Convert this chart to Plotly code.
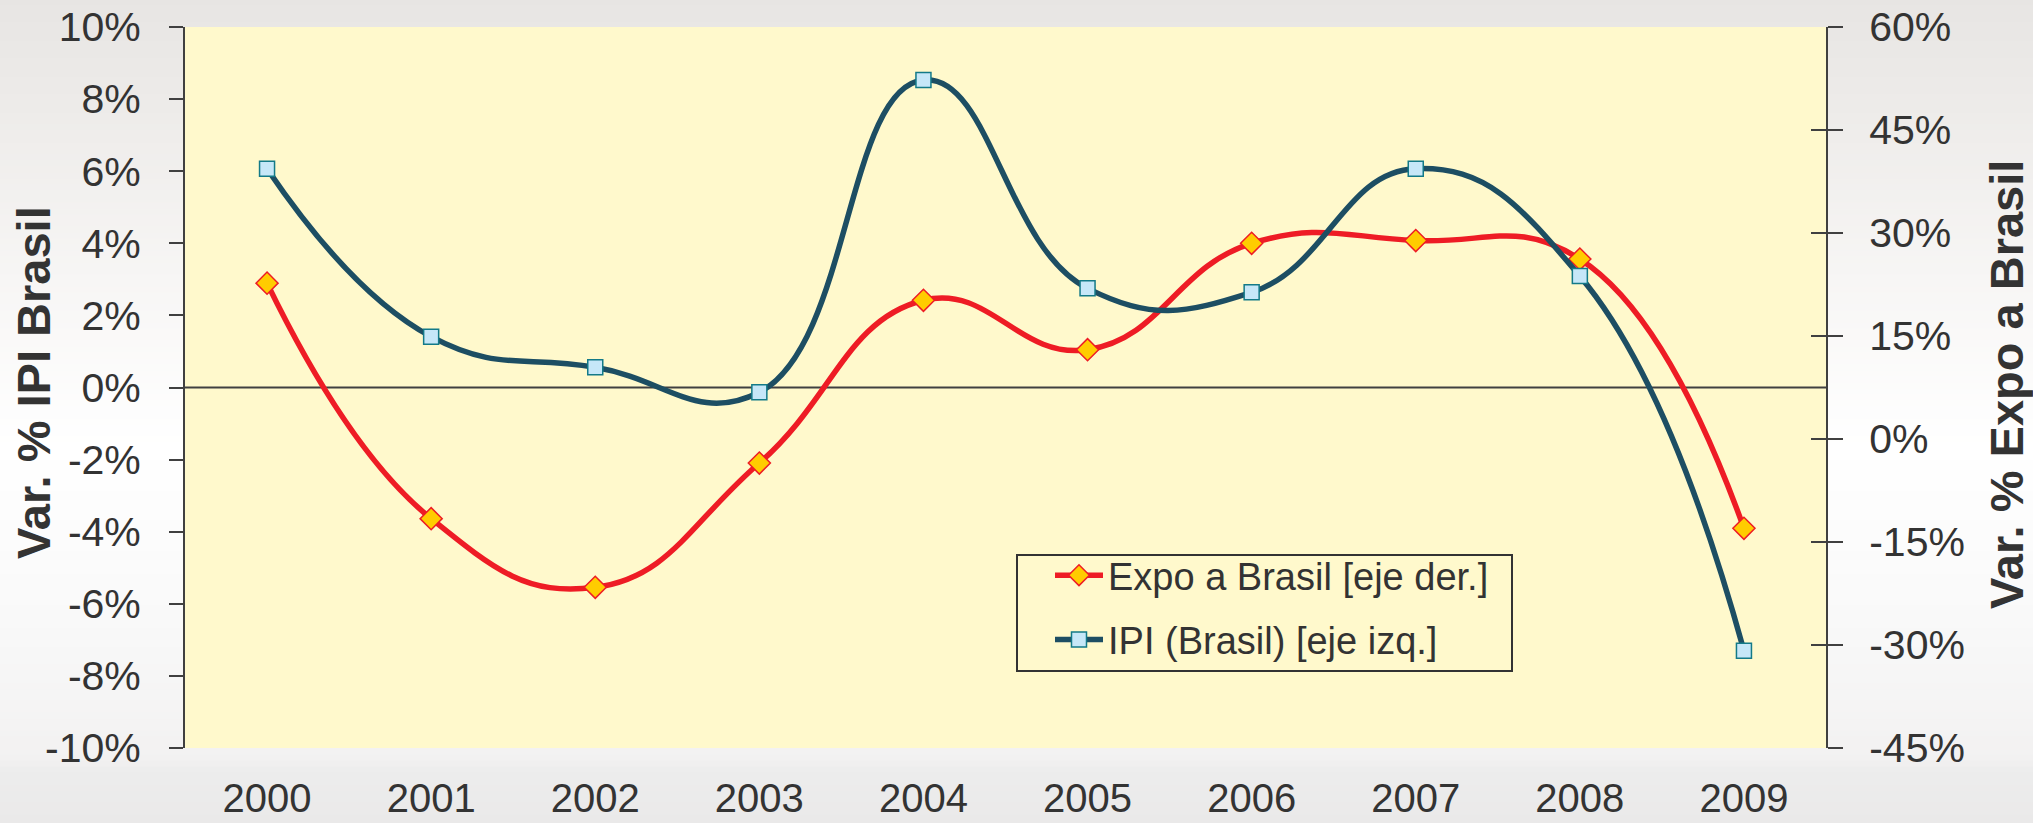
import plotly.graph_objects as go

# ---- data ----
years = ["2000", "2001", "2002", "2003", "2004", "2005", "2006", "2007", "2008", "2009"]
ipi_brasil = [6.07, 1.41, 0.56, -0.13, 8.53, 2.75, 2.64, 6.07, 3.09, -7.30]      # left axis, %
expo_brasil = [22.7, -11.6, -21.6, -3.5, 20.2, 13.0, 28.5, 28.9, 26.2, -13.0]   # right axis, %
left_ticks = [-10, -8, -6, -4, -2, 0, 2, 4, 6, 8, 10]
right_ticks = [-45, -30, -15, 0, 15, 30, 45, 60]
name_expo = "Expo a Brasil [eje der.]"
name_ipi = "IPI (Brasil) [eje izq.]"
title_left = "Var. % IPI Brasil"
title_right = "Var. % Expo a Brasil"

W, H = 2033, 823
ML, MR, MT, MB = 185, 207, 27, 75
PW, PH = W - ML - MR, H - MT - MB
FONT = "Liberation Sans, Arial, Helvetica, sans-serif"
TXT = "#333333"
AX = "#404040"


def px_x(x):
    return (x - ML) / PW


def px_y(y):
    return (H - MB - y) / PH


fig = go.Figure()

fig.add_trace(go.Scatter(
    x=years, y=expo_brasil, name=name_expo, yaxis="y", legendgroup="a",
    mode="lines+markers",
    line=dict(color="#EE1C25", width=5.5, shape="spline", smoothing=1.3),
    marker=dict(symbol="diamond", size=17, color="#FFCC00",
                line=dict(color="#EE1C25", width=1.5)),
))
fig.add_trace(go.Scatter(
    x=years, y=ipi_brasil, name=name_ipi, yaxis="y2", legendgroup="b",
    mode="lines+markers",
    line=dict(color="#1D4E63", width=5.5, shape="spline", smoothing=1.3),
    marker=dict(symbol="square", size=15, color="#C6E7F8",
                line=dict(color="#137A88", width=1.5)),
))

# background gradient (page) built from stacked bands
stops = [(0, (231, 229, 227)), (120, (238, 236, 234)), (300, (248, 247, 246)),
         (450, (255, 255, 255)), (620, (249, 249, 249)), (764, (242, 241, 241)),
         (766, (237, 237, 237)), (823, (234, 233, 233))]
shapes = []
band = 6
for y0 in range(0, H, band):
    y1 = min(H, y0 + band)
    ym = (y0 + y1) / 2
    c = stops[-1][1]
    for i in range(len(stops) - 1):
        a, ca = stops[i]
        b, cb = stops[i + 1]
        if a <= ym <= b:
            t = (ym - a) / (b - a) if b > a else 0
            c = tuple(round(ca[k] + (cb[k] - ca[k]) * t) for k in range(3))
            break
    shapes.append(dict(type="rect", xref="paper", yref="paper", layer="below",
                       x0=px_x(-5), x1=px_x(W + 5),
                       y0=px_y(y1), y1=px_y(y0) + 0.002,
                       fillcolor="rgb(%d,%d,%d)" % c, line=dict(width=0)))
# plot area fill
shapes.append(dict(type="rect", xref="paper", yref="paper", layer="below",
                   x0=0, x1=1, y0=0, y1=1, fillcolor="#FFF9CC", line=dict(width=0)))
# zero line of left axis
shapes.append(dict(type="line", xref="paper", yref="y2", layer="below",
                   x0=0, x1=1, y0=0, y1=0, line=dict(color=AX, width=2)))
# legend frame
shapes.append(dict(type="rect", xref="paper", yref="paper", layer="below",
                   x0=px_x(1017), x1=px_x(1512), y0=px_y(671), y1=px_y(555),
                   fillcolor="rgba(0,0,0,0)", line=dict(color="#333333", width=2)))

fig.update_layout(
    template="none",
    width=W, height=H,
    margin=dict(l=ML, r=MR, t=MT, b=MB, autoexpand=False),
    paper_bgcolor="#FFFFFF", plot_bgcolor="rgba(0,0,0,0)",
    font=dict(family=FONT, color=TXT, size=41),
    shapes=shapes,
    showlegend=True,
    legend=dict(x=px_x(1050), y=px_y(544), xanchor="left", yanchor="top",
                bgcolor="rgba(0,0,0,0)", borderwidth=0,
                font=dict(size=38, color=TXT, family=FONT),
                traceorder="grouped", itemwidth=48, tracegroupgap=12),
    xaxis=dict(type="category", range=[-0.5, 9.5], showgrid=False, zeroline=False,
               showline=False, ticks="", tickfont=dict(size=40, color=TXT),
               ticklabelstandoff=23, automargin=False),
    yaxis=dict(range=[-45, 60], side="right", tickvals=right_ticks,
               ticktext=[f"{v}%" for v in right_ticks],
               showgrid=False, zeroline=False, showline=True, linecolor=AX, linewidth=2,
               ticks="outside", ticklen=15, tickwidth=2, tickcolor=AX,
               tickfont=dict(size=41, color=TXT), ticklabelstandoff=18, automargin=False),
    yaxis2=dict(range=[-10, 10], side="left", overlaying="y", anchor="x",
                tickvals=left_ticks, ticktext=[f"{v}%" for v in left_ticks],
                showgrid=False, zeroline=False, showline=True, linecolor=AX, linewidth=2,
                ticks="outside", ticklen=14, tickwidth=2, tickcolor=AX,
                tickfont=dict(size=41, color=TXT), ticklabelstandoff=20, automargin=False),
    yaxis3=dict(range=[-45, 60], side="right", overlaying="y", anchor="x",
                tickvals=right_ticks, showticklabels=False, showgrid=False,
                zeroline=False, showline=False, ticks="inside", ticklen=15,
                tickwidth=2, tickcolor=AX, automargin=False),
    annotations=[
        dict(text="<b>%s</b>" % title_left, xref="paper", yref="paper",
             x=px_x(33), y=px_y(383),
             xanchor="center", yanchor="middle", textangle=-90, showarrow=False,
             font=dict(size=47, color=TXT, family=FONT)),
        dict(text="<b>%s</b>" % title_right, xref="paper", yref="paper",
             x=px_x(2006), y=px_y(385),
             xanchor="center", yanchor="middle", textangle=-90, showarrow=False,
             font=dict(size=47, color=TXT, family=FONT)),
    ],
)

# invisible trace to activate yaxis3 ticks
fig.add_trace(go.Scatter(x=years[:1], y=[None], yaxis="y3", showlegend=False,
                         hoverinfo="skip", mode="lines"))

fig.write_html("out.html",
               config={"displayModeBar": False},
               post_script="document.body.style.margin='0';"
                           "document.body.style.overflow='hidden';")
